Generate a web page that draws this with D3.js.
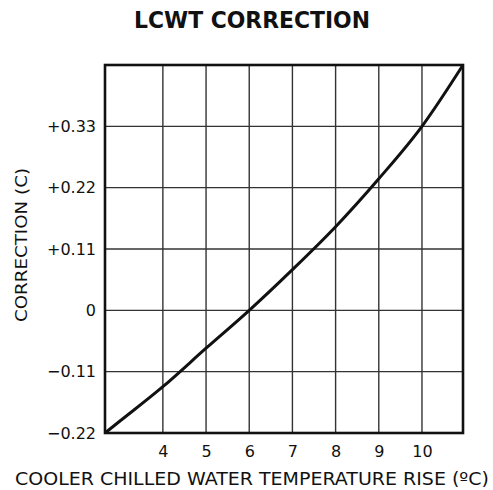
<!DOCTYPE html>
<html>
<head>
<meta charset="utf-8">
<script src="https://cdn.jsdelivr.net/npm/d3@7"></script>
<style>
  html, body { margin: 0; padding: 0; background: #fff; }
  svg { display: block; }
  text { fill: #111; }
</style>
</head>
<body>
<svg id="chart" width="493" height="490"></svg>
<script>
// Temperature rise (°C) and the matching LCWT correction (°C)
const riseValues = [2.66, 3, 4, 5, 6, 7, 8, 9, 10, 10.95];
const correctionValues = [-0.22, -0.199, -0.137, -0.068, 0, 0.073, 0.150, 0.236, 0.330, 0.44];

const xTicks = [4, 5, 6, 7, 8, 9, 10];
const yTicks = [-0.22, -0.11, 0, 0.11, 0.22, 0.33];
const yTickLabels = ["\u22120.22", "\u22120.11", "0", "+0.11", "+0.22", "+0.33"];

const xDomain = [2.66, 10.95];
const yDomain = [-0.22, 0.44];

const svg = d3.select("#chart");
const margin = { left: 105, right: 30, top: 65, bottom: 57 };
const W = 493, H = 490;

const x = d3.scaleLinear().domain(xDomain).range([margin.left, W - margin.right]);
const y = d3.scaleLinear().domain(yDomain).range([H - margin.bottom, margin.top]);

const font = "'DejaVu Sans', sans-serif";

// Title
svg.append("text")
  .attr("x", 252).attr("y", 28)
  .attr("text-anchor", "middle")
  .style("font-family", "'DejaVu Sans', sans-serif")
  .style("font-weight", "bold")
  .style("font-size", "23px")
  .attr("textLength", 236)
  .attr("lengthAdjust", "spacingAndGlyphs")
  .text("LCWT CORRECTION");

// Grid lines
const grid = svg.append("g").attr("stroke", "#333").attr("stroke-width", 1.4);
grid.selectAll("line.v").data(xTicks).join("line")
  .attr("x1", d => x(d)).attr("x2", d => x(d))
  .attr("y1", y(yDomain[0])).attr("y2", y(yDomain[1]));
grid.selectAll("line.h").data(yTicks.slice(1)).join("line")
  .attr("y1", d => y(d)).attr("y2", d => y(d))
  .attr("x1", x(xDomain[0])).attr("x2", x(xDomain[1]));

// Axes (labels only, the frame is drawn separately)
const xAxis = d3.axisBottom(x).tickValues(xTicks).tickSize(0).tickPadding(13).tickFormat(d3.format("d"));
const gx = svg.append("g").attr("transform", `translate(0,${y(yDomain[0])})`).call(xAxis);
gx.select(".domain").remove();
gx.selectAll("text").style("font-family", font).style("font-size", "16px").attr("fill", "#111");

const yAxis = d3.axisLeft(y).tickValues(yTicks).tickSize(0).tickPadding(9)
  .tickFormat((d, i) => yTickLabels[i]);
const gy = svg.append("g").attr("transform", `translate(${x(xDomain[0])},0)`).call(yAxis);
gy.select(".domain").remove();
gy.selectAll("text").style("font-family", font).style("font-size", "16px").attr("fill", "#111");

// Frame
svg.append("rect")
  .attr("x", x(xDomain[0])).attr("y", y(yDomain[1]))
  .attr("width", x(xDomain[1]) - x(xDomain[0]))
  .attr("height", y(yDomain[0]) - y(yDomain[1]))
  .attr("fill", "none").attr("stroke", "#111").attr("stroke-width", 2.6);

// Correction curve
const line = d3.line()
  .x((d, i) => x(riseValues[i]))
  .y(d => y(d))
  .curve(d3.curveMonotoneX);
svg.append("path")
  .datum(correctionValues)
  .attr("d", line)
  .attr("fill", "none")
  .attr("stroke", "#111")
  .attr("stroke-width", 3);

// Axis titles
svg.append("text")
  .attr("x", 15).attr("y", 485)
  .style("font-family", font).style("font-size", "17px")
  .attr("textLength", 474)
  .attr("lengthAdjust", "spacingAndGlyphs")
  .text("COOLER CHILLED WATER TEMPERATURE RISE (\u00BAC)");

svg.append("text")
  .attr("transform", "translate(27,245) rotate(-90)")
  .attr("text-anchor", "middle")
  .style("font-family", font).style("font-size", "16px")
  .attr("textLength", 154)
  .attr("lengthAdjust", "spacingAndGlyphs")
  .text("CORRECTION (C)");
</script>
</body>
</html>
